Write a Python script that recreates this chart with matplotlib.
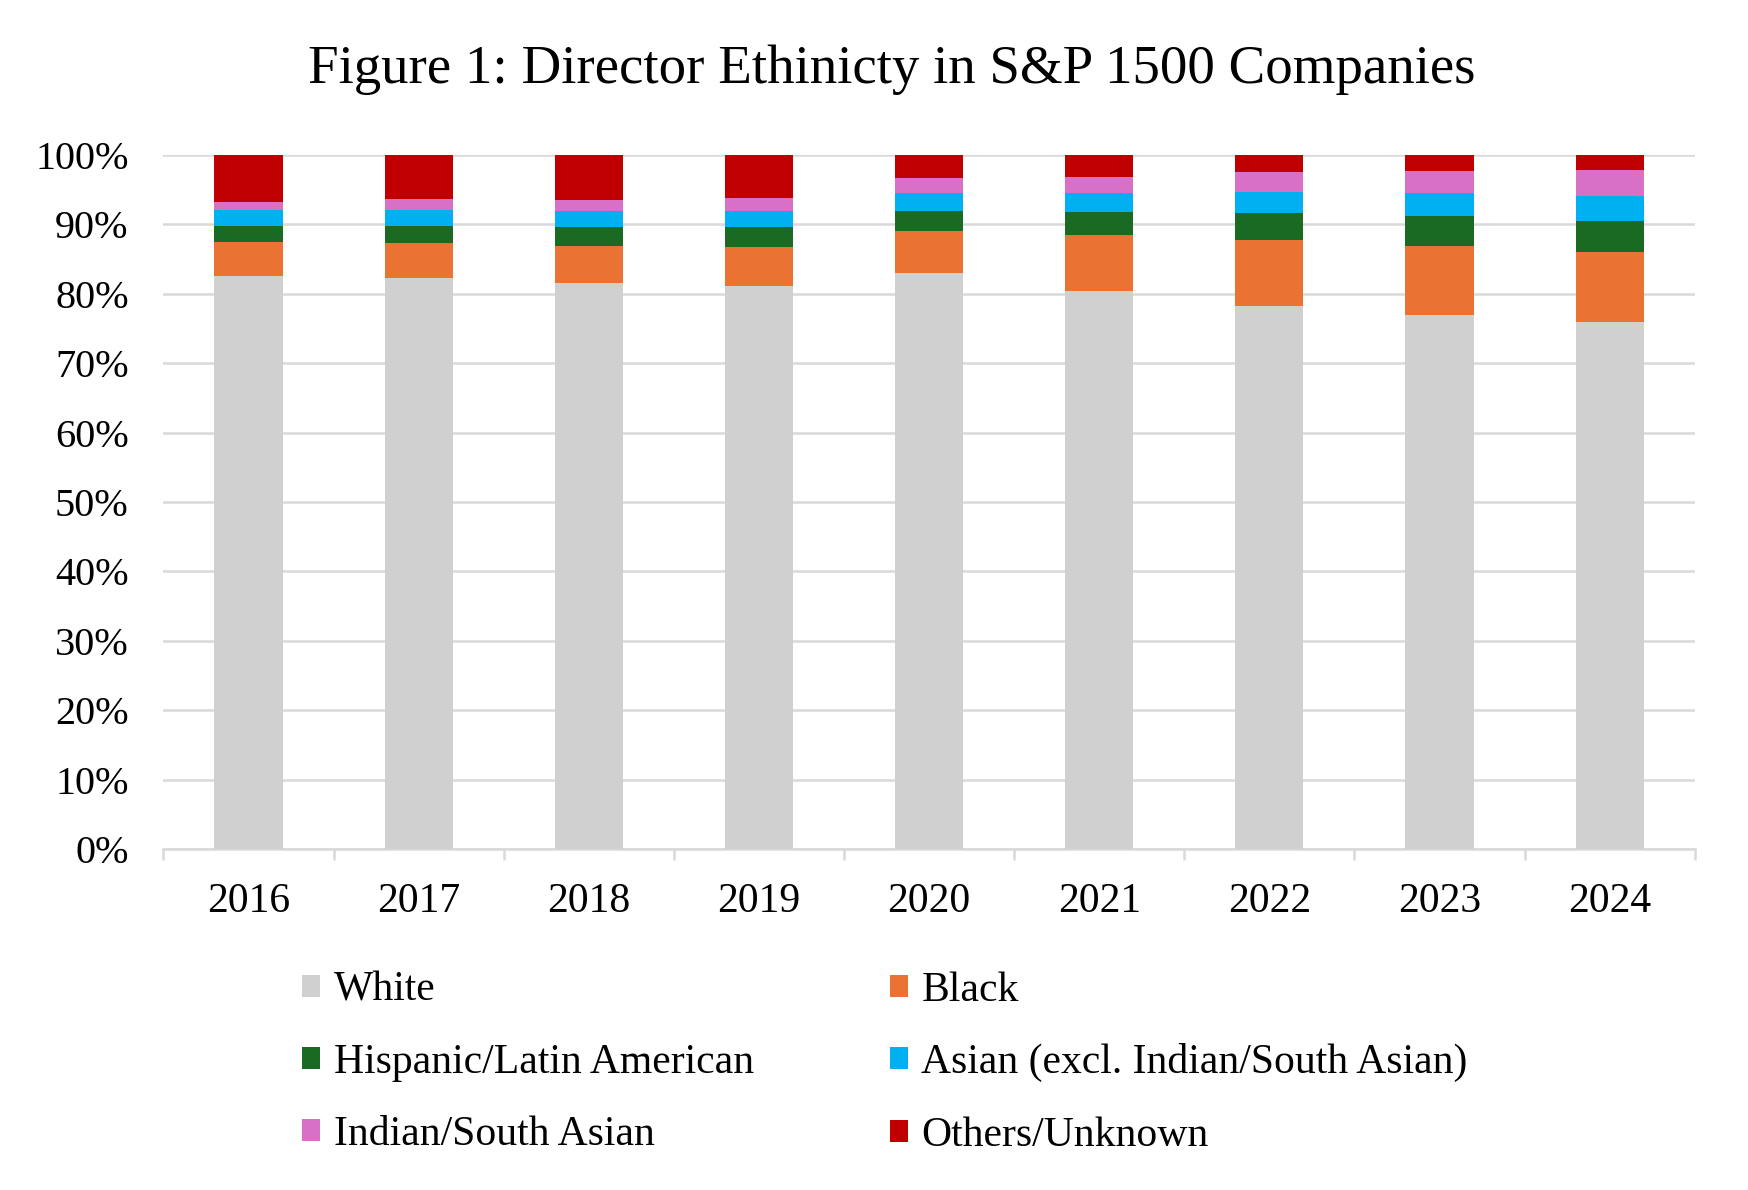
import numpy as np
import matplotlib
matplotlib.use("Agg")
import matplotlib.pyplot as plt
from matplotlib.patches import Patch
from matplotlib.ticker import PercentFormatter, FixedLocator

# Director ethnicity shares (%)
years = ["2016", "2017", "2018", "2019", "2020", "2021", "2022", "2023", "2024"]
white = [82.6, 82.3, 81.6, 81.2, 83.0, 80.4, 78.2, 77.0, 75.9]
black = [4.8, 5.0, 5.3, 5.6, 6.0, 8.1, 9.5, 9.9, 10.2]
hispanic = [2.4, 2.5, 2.8, 2.8, 3.0, 3.3, 4.0, 4.3, 4.4]
asian = [2.3, 2.3, 2.2, 2.3, 2.5, 2.7, 3.0, 3.3, 3.6]
indian = [1.2, 1.5, 1.6, 1.9, 2.2, 2.3, 2.9, 3.2, 3.7]
others = [6.7, 6.4, 6.5, 6.2, 3.3, 3.2, 2.4, 2.3, 2.2]

series_names = ["White", "Black", "Hispanic/Latin American",
                "Asian (excl. Indian/South Asian)", "Indian/South Asian",
                "Others/Unknown"]
colors = ["#d0d0d0", "#ea7334", "#1b6a23", "#00b0f0", "#d870c8", "#c00000"]

plt.rcParams['font.family'] = ['Liberation Serif', 'DejaVu Serif']

fig = plt.figure(figsize=(17.48, 11.9), dpi=100)
ax = fig.add_axes([0.0935, 0.2866, 0.876, 0.5831])

x = np.arange(len(years))
bottom = np.zeros(len(years))
handles = []
for name, vals, col in zip(series_names,
                           [white, black, hispanic, asian, indian, others],
                           colors):
    vals = np.array(vals)
    ax.bar(x, vals, width=0.4, bottom=bottom, color=col, zorder=3)
    bottom += vals
    handles.append(Patch(facecolor=col, label=name))

ax.set_xlim(-0.5, len(years) - 0.5)
ax.set_ylim(0, 100)
ax.set_yticks(np.arange(0, 101, 10))
ax.yaxis.set_major_formatter(PercentFormatter(decimals=0))
ax.grid(axis='y', color='#d9d9d9', linewidth=1.8, zorder=0)

for s in ['top', 'right', 'left']:
    ax.spines[s].set_visible(False)
ax.spines['bottom'].set_color('#d9d9d9')
ax.spines['bottom'].set_linewidth(1.8)

ax.set_xticks(x)
ax.set_xticklabels(years)
ax.xaxis.set_minor_locator(FixedLocator(np.arange(-0.5, len(years), 1)))
ax.tick_params(axis='x', which='major', length=0, labelsize=30, pad=24)
ax.tick_params(axis='x', which='minor', length=8, width=1.8, color='#d9d9d9')
ax.tick_params(axis='y', length=0, labelsize=29, pad=25)

fig.text(0.51, 0.941, "Figure 1: Director Ethinicty in S&P 1500 Companies",
         fontsize=39.5, ha='center', va='center')

# row-wise order like the reference: White, Black / Hispanic, Asian / ...
order = [0, 2, 4, 1, 3, 5]
fig.legend([handles[i] for i in order], [series_names[i] for i in order],
           ncol=2, loc='upper left', bbox_to_anchor=(0.173, 0.184),
           frameon=False, fontsize=30, handlelength=0.43, handleheight=0.43,
           handletextpad=0.33, labelspacing=0.81, columnspacing=3.25,
           borderpad=0, borderaxespad=0)

fig.savefig("out.png", dpi=100)
